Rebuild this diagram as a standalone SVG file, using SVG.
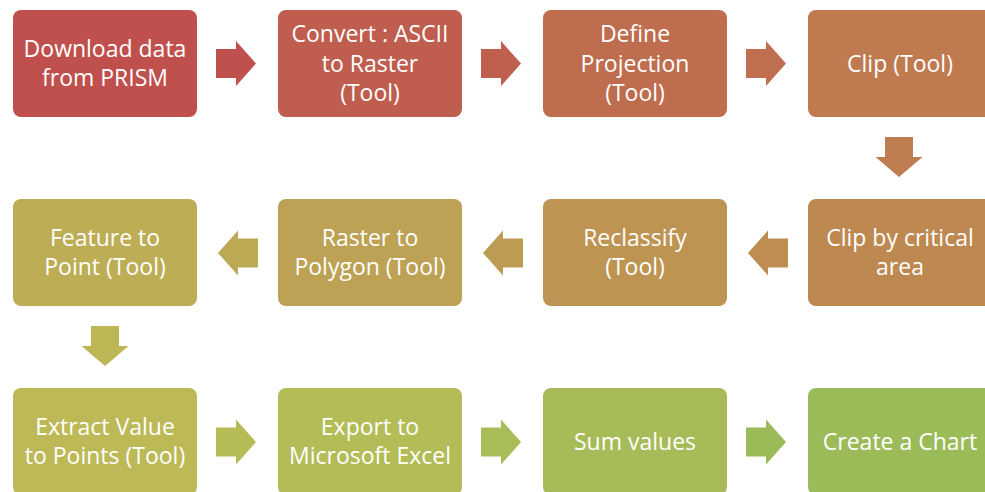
<svg xmlns="http://www.w3.org/2000/svg" width="985" height="492" viewBox="0 0 985 492">
  <style>
    .box text { font-family: "Open Sans", "Liberation Sans", sans-serif; font-size: 23px; fill: #ffffff; text-anchor: middle; }
  </style>
  <defs>
    <path id="arrow-right" d="M-20,-14.5 H0 V-22.5 L20,0 L0,22.5 V14.5 H-20 Z"/>
    <path id="arrow-left" d="M20,-14.5 H0 V-22.5 L-20,0 L0,22.5 V14.5 H20 Z"/>
    <path id="arrow-down" d="M-14,-20 H14 V0 H23.5 L0,20 L-23.5,0 H-14 Z"/>
  </defs>

  <rect width="985" height="492" fill="#ffffff"/>

  <!-- connectors -->
  <g id="connectors">
    <use href="#arrow-right" x="236" y="63.5" fill="hsl(1.6,47.7%,52.7%)"/>
    <use href="#arrow-right" x="501" y="63.5" fill="hsl(9.4,47.1%,52.8%)"/>
    <use href="#arrow-right" x="766" y="63.5" fill="hsl(17.2,46.5%,53.0%)"/>
    <use href="#arrow-down" x="899" y="157" fill="hsl(25.0,45.9%,53.1%)"/>
    <use href="#arrow-left" x="768" y="253" fill="hsl(32.8,45.4%,53.3%)"/>
    <use href="#arrow-left" x="503" y="253" fill="hsl(40.6,44.8%,53.4%)"/>
    <use href="#arrow-left" x="238" y="253" fill="hsl(48.4,44.2%,53.5%)"/>
    <use href="#arrow-down" x="105" y="346" fill="hsl(56.2,43.6%,53.7%)"/>
    <use href="#arrow-right" x="236" y="442" fill="hsl(64.0,43.0%,53.8%)"/>
    <use href="#arrow-right" x="501" y="442" fill="hsl(71.8,42.5%,54.0%)"/>
    <use href="#arrow-right" x="766" y="442" fill="hsl(79.6,41.9%,54.1%)"/>
  </g>

  <!-- row 1 -->
  <g id="download" class="box">
    <rect x="13" y="10" width="184" height="107" rx="8" fill="hsl(1.6,47.7%,52.7%)"/>
    <text x="105" y="56.5">Download data</text>
    <text x="105" y="86">from PRISM</text>
  </g>
  <g id="ascii-to-raster" class="box">
    <rect x="278" y="10" width="184" height="107" rx="8" fill="hsl(8.7,47.2%,52.8%)"/>
    <text x="370" y="42">Convert : ASCII</text>
    <text x="370" y="71.5">to Raster</text>
    <text x="370" y="101">(Tool)</text>
  </g>
  <g id="define-projection" class="box">
    <rect x="543" y="10" width="184" height="107" rx="8" fill="hsl(15.8,46.6%,53.0%)"/>
    <text x="635" y="42">Define</text>
    <text x="635" y="71.5">Projection</text>
    <text x="635" y="101">(Tool)</text>
  </g>
  <g id="clip" class="box">
    <rect x="808" y="10" width="184" height="107" rx="8" fill="hsl(22.9,46.1%,53.1%)"/>
    <text x="900" y="71.5">Clip (Tool)</text>
  </g>

  <!-- row 2 -->
  <g id="clip-critical" class="box">
    <rect x="808" y="199" width="184" height="107" rx="8" fill="hsl(30.0,45.6%,53.2%)"/>
    <text x="900" y="245.5">Clip by critical</text>
    <text x="900" y="275">area</text>
  </g>
  <g id="reclassify" class="box">
    <rect x="543" y="199" width="184" height="107" rx="8" fill="hsl(37.0,45.1%,53.3%)"/>
    <text x="635" y="245.5">Reclassify</text>
    <text x="635" y="275">(Tool)</text>
  </g>
  <g id="raster-to-polygon" class="box">
    <rect x="278" y="199" width="184" height="107" rx="8" fill="hsl(44.1,44.5%,53.5%)"/>
    <text x="370" y="245.5">Raster to</text>
    <text x="370" y="275">Polygon (Tool)</text>
  </g>
  <g id="feature-to-point" class="box">
    <rect x="13" y="199" width="184" height="107" rx="8" fill="hsl(51.2,44.0%,53.6%)"/>
    <text x="105" y="245.5">Feature to</text>
    <text x="105" y="275">Point (Tool)</text>
  </g>

  <!-- row 3 -->
  <g id="extract-values" class="box">
    <rect x="13" y="388" width="184" height="107" rx="8" fill="hsl(58.3,43.5%,53.7%)"/>
    <text x="105" y="434.5">Extract Value</text>
    <text x="105" y="464">to Points (Tool)</text>
  </g>
  <g id="export-excel" class="box">
    <rect x="278" y="388" width="184" height="107" rx="8" fill="hsl(65.4,43.0%,53.8%)"/>
    <text x="370" y="434.5">Export to</text>
    <text x="370" y="464">Microsoft Excel</text>
  </g>
  <g id="sum-values" class="box">
    <rect x="543" y="388" width="184" height="107" rx="8" fill="hsl(72.5,42.4%,54.0%)"/>
    <text x="635" y="449.5">Sum values</text>
  </g>
  <g id="create-chart" class="box">
    <rect x="808" y="388" width="184" height="107" rx="8" fill="hsl(79.6,41.9%,54.1%)"/>
    <text x="900" y="449.5">Create a Chart</text>
  </g>
</svg>
